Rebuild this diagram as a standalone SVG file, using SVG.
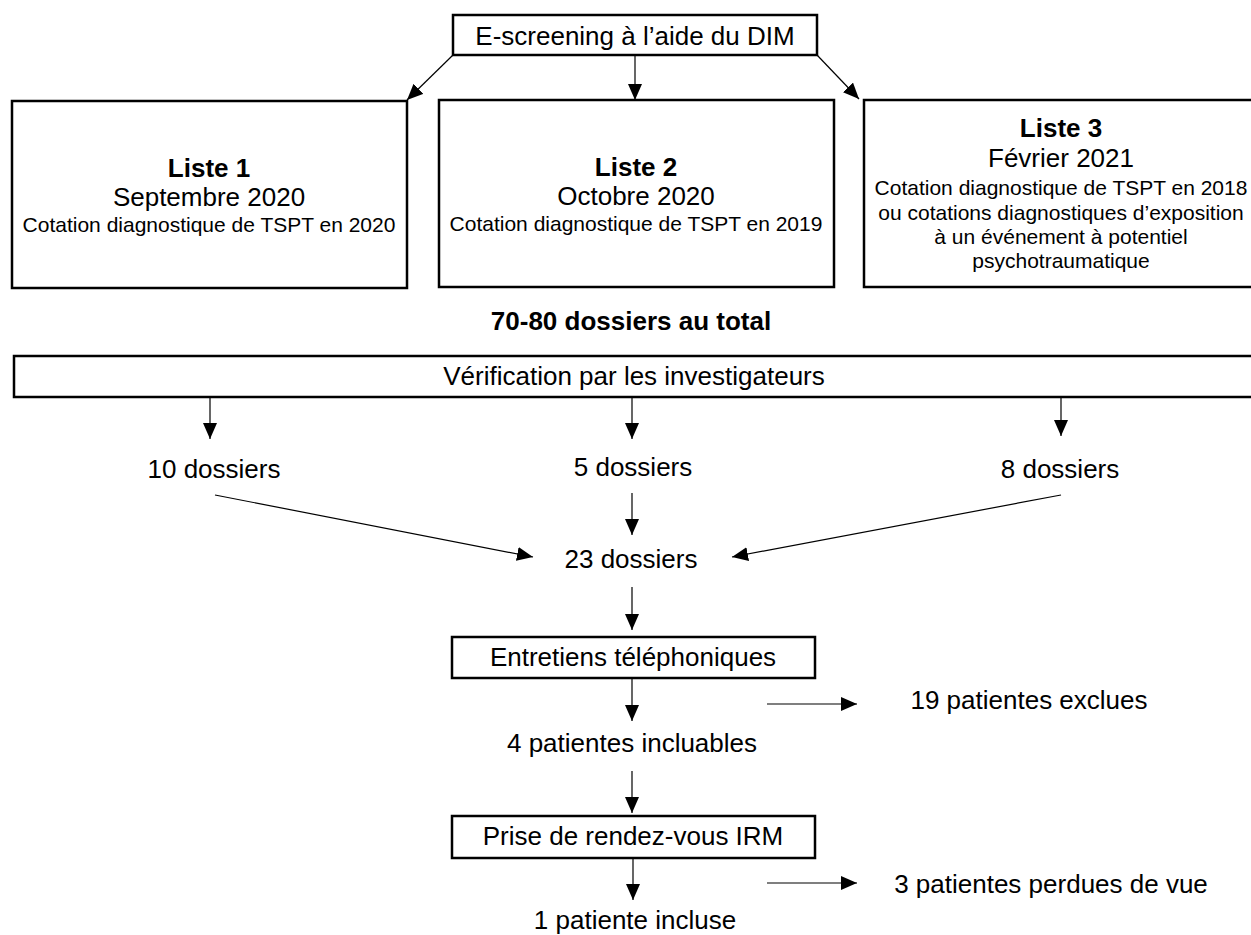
<svg xmlns="http://www.w3.org/2000/svg" width="1251" height="935" viewBox="0 0 1251 935">
<defs>
<marker id="ah" markerUnits="userSpaceOnUse" markerWidth="16" markerHeight="14" refX="16" refY="7" orient="auto">
<path d="M0,0 L16,7 L0,14 z" fill="#000"/>
</marker>
<style>
.box{fill:#fff;stroke:#000;stroke-width:2.5}
.t{font-family:"Liberation Sans",Arial,sans-serif;font-size:26px;fill:#000;text-anchor:middle}
.b{font-weight:bold}
.s{font-size:21px}
.c{stroke:#000;stroke-width:1.2;fill:none;marker-end:url(#ah)}
</style>
</defs>
<rect width="1251" height="935" fill="#fff"/>
<g id="connectors">
<line class="c" x1="453" y1="55" x2="407" y2="100"/>
<line class="c" x1="635" y1="55" x2="635" y2="100"/>
<line class="c" x1="817" y1="55" x2="859" y2="99"/>
<line class="c" x1="210" y1="397" x2="210" y2="439"/>
<line class="c" x1="632" y1="397" x2="632" y2="439"/>
<line class="c" x1="1061" y1="393" x2="1061" y2="436"/>
<line class="c" x1="215" y1="495" x2="533" y2="557"/>
<line class="c" x1="632" y1="493" x2="632" y2="535"/>
<line class="c" x1="1061" y1="495" x2="732" y2="557"/>
<line class="c" x1="632" y1="587" x2="632" y2="630"/>
<line class="c" x1="632" y1="678" x2="632" y2="721"/>
<line class="c" x1="767" y1="704" x2="857" y2="704"/>
<line class="c" x1="632" y1="771" x2="632" y2="813"/>
<line class="c" x1="633" y1="858" x2="633" y2="900"/>
<line class="c" x1="767" y1="883" x2="857" y2="883"/>
</g>
<g id="escreening">
<rect class="box" x="453" y="15" width="364" height="40"/>
<text class="t" x="635" y="45">E-screening à l’aide du DIM</text>
</g>
<g id="liste1">
<rect class="box" x="12" y="101" width="395" height="187"/>
<text class="t b" x="209" y="177">Liste 1</text>
<text class="t" x="209" y="206">Septembre 2020</text>
<text class="t s" x="209" y="232">Cotation diagnostique de TSPT en 2020</text>
</g>
<g id="liste2">
<rect class="box" x="439" y="100" width="395" height="187"/>
<text class="t b" x="636" y="176">Liste 2</text>
<text class="t" x="636" y="205">Octobre 2020</text>
<text class="t s" x="636" y="231">Cotation diagnostique de TSPT en 2019</text>
</g>
<g id="liste3">
<rect class="box" x="864" y="100" width="395" height="187"/>
<text class="t b" x="1061" y="137">Liste 3</text>
<text class="t" x="1061" y="167">Février 2021</text>
<text class="t s" x="1061" y="195">Cotation diagnostique de TSPT en 2018</text>
<text class="t s" x="1061" y="220">ou cotations diagnostiques d’exposition</text>
<text class="t s" x="1061" y="244">à un événement à potentiel</text>
<text class="t s" x="1061" y="268">psychotraumatique</text>
</g>
<g id="total">
<text class="t b" x="631" y="330">70-80 dossiers au total</text>
</g>
<g id="verification">
<rect class="box" x="14" y="356" width="1245" height="41"/>
<text class="t" x="634" y="385">Vérification par les investigateurs</text>
</g>
<g id="d10"><text class="t" x="214" y="478">10 dossiers</text></g>
<g id="d5"><text class="t" x="633" y="476">5 dossiers</text></g>
<g id="d8"><text class="t" x="1060" y="478">8 dossiers</text></g>
<g id="d23"><text class="t" x="631" y="568">23 dossiers</text></g>
<g id="entretiens">
<rect class="box" x="452" y="637" width="363" height="41"/>
<text class="t" x="633" y="666">Entretiens téléphoniques</text>
</g>
<g id="exclues"><text class="t" x="1029" y="709">19 patientes exclues</text></g>
<g id="incluables"><text class="t" x="632" y="752">4 patientes incluables</text></g>
<g id="irm">
<rect class="box" x="452" y="816" width="363" height="42"/>
<text class="t" x="633" y="845">Prise de rendez-vous IRM</text>
</g>
<g id="perdues"><text class="t" x="1051" y="893">3 patientes perdues de vue</text></g>
<g id="incluse"><text class="t" x="635" y="929">1 patiente incluse</text></g>
</svg>
